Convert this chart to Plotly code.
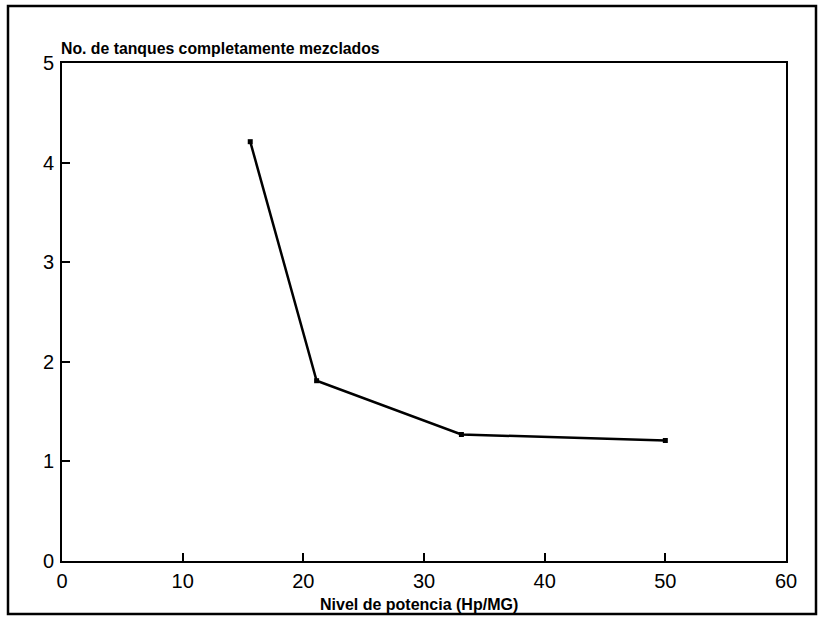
import plotly.graph_objects as go

# Data
potencia = [15.6, 21.1, 33.1, 50.0]          # Nivel de potencia (Hp/MG)
tanques = [4.21, 1.81, 1.27, 1.21]           # No. de tanques completamente mezclados

x_ticks = [0, 10, 20, 30, 40, 50, 60]
y_ticks = [0, 1, 2, 3, 4, 5]

title_y = "No. de tanques completamente mezclados"
title_x = "Nivel de potencia (Hp/MG)"

W, H = 823, 619
L, R, T, B = 62, 37, 63, 58
pw, ph = W - L - R, H - T - B

def px2paper_x(px):
    return (px - L) / pw

def px2paper_y(py):
    return (H - B - py) / ph

fig = go.Figure()
fig.add_trace(go.Scatter(
    x=potencia, y=tanques, mode="lines+markers",
    line=dict(color="black", width=2.5),
    marker=dict(color="black", size=5, symbol="square"),
    showlegend=False, hoverinfo="x+y",
))

tickfont = dict(family="Liberation Sans, Arial, sans-serif", size=20, color="black")
fig.update_xaxes(
    range=[0, 60], tickvals=x_ticks, ticktext=[str(v) for v in x_ticks],
    ticks="inside", ticklen=8, tickwidth=1.5, tickcolor="black",
    showline=True, linecolor="black", linewidth=2, mirror=True,
    showgrid=False, zeroline=False, tickfont=tickfont, ticklabelstandoff=1,
)
fig.update_yaxes(
    range=[0, 5], tickvals=y_ticks, ticktext=[str(v) for v in y_ticks],
    ticks="inside", ticklen=8, tickwidth=1.5, tickcolor="black",
    showline=True, linecolor="black", linewidth=2, mirror=True,
    showgrid=False, zeroline=False, tickfont=tickfont, ticklabelstandoff=2,
)

fig.add_annotation(
    text="<b>" + title_y + "</b>", xref="paper", yref="paper",
    x=px2paper_x(59), y=px2paper_y(48), xanchor="left", yanchor="middle",
    showarrow=False,
    font=dict(family="Liberation Sans, Arial, sans-serif", size=15.8, color="black"),
)
fig.add_annotation(
    text="<b>" + title_x + "</b>", xref="paper", yref="paper",
    x=px2paper_x(419), y=px2paper_y(604), xanchor="center", yanchor="middle",
    showarrow=False,
    font=dict(family="Liberation Sans, Arial, sans-serif", size=16, color="black"),
)

# Outer frame
fig.add_shape(
    type="rect", xref="paper", yref="paper",
    x0=px2paper_x(8), x1=px2paper_x(816), y0=px2paper_y(614), y1=px2paper_y(6),
    line=dict(color="black", width=2.5), fillcolor="rgba(0,0,0,0)", layer="below",
)

fig.update_layout(
    width=W, height=H,
    margin=dict(l=L, r=R, t=T, b=B),
    paper_bgcolor="white", plot_bgcolor="white",
)

fig.write_html("out.html", config={"displayModeBar": False},
               post_script="document.body.style.margin='0';")
